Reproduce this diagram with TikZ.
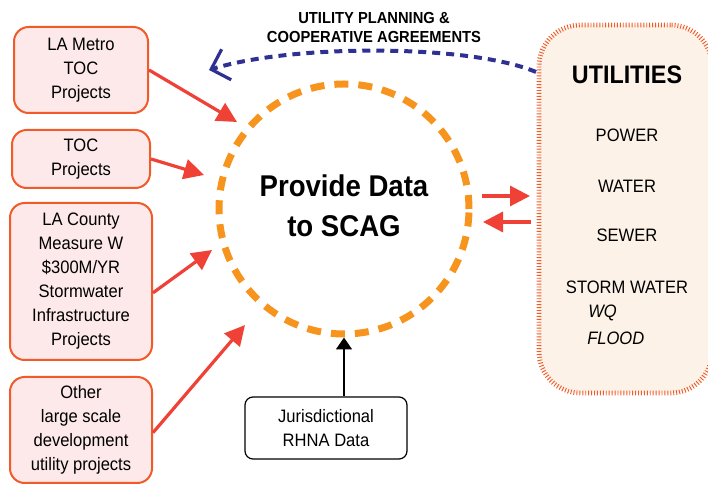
\documentclass[tikz,border=0pt]{standalone}
\usepackage{fontspec}
\setmainfont[FakeStretch=0.92]{Liberation Sans}
\usetikzlibrary{arrows.meta}
\definecolor{boxline}{HTML}{F15A29}
\definecolor{boxfill}{HTML}{FDE9E9}
\definecolor{redarrow}{HTML}{EF4136}
\definecolor{circorange}{HTML}{F7941D}
\definecolor{blueline}{HTML}{2E3192}
\definecolor{utilfill}{HTML}{FDF2E7}
\definecolor{utilline}{HTML}{F15A29}
\tikzset{
  srcbox/.style={draw=boxline, line width=1.5pt, fill=boxfill, rounded corners=11pt,
    align=center, inner sep=0pt, font=\fontsize{13.5}{18}\selectfont},
  redarr/.style={draw=redarrow, line width=2.4pt, -{Triangle[length=15pt,width=15pt]}},
  itemtxt/.style={font=\fontsize{13.5}{18}\selectfont},
}
\begin{document}
\begin{tikzpicture}[x=0.75pt,y=-0.75pt]
\useasboundingbox (0,0) rectangle (708,484);

% utilities box
\node[draw=utilline, fill=utilfill, line width=3.6pt, dash pattern=on 0.7pt off 1.5pt,
  rounded corners=31pt, minimum width=129.75pt, minimum height=276pt, inner sep=0pt]
  (u) at (625.5,209) {};
\node[font=\bfseries\fontsize{19}{22}\selectfont] (ut) at (627,75) {UTILITIES};
\node[itemtxt] (pw) at (627,135) {POWER};
\node[itemtxt] (wa) at (627,186) {WATER};
\node[itemtxt] (se) at (627,235) {SEWER};
\node[itemtxt] (sw) at (627,287) {STORM WATER};
\node[itemtxt, anchor=west, font=\itshape\fontsize{13.5}{18}\selectfont, inner sep=0pt] (wq) at (588,313) {WQ};
\node[itemtxt, anchor=west, font=\itshape\fontsize{13.5}{18}\selectfont, inner sep=0pt] (fl) at (587,338) {FLOOD};

% source boxes
\node[srcbox, minimum width=100.5pt, minimum height=64.5pt] (b1) at (81,70) {LA Metro\\TOC\\Projects};
\node[srcbox, minimum width=103.5pt, minimum height=43.5pt] (b2) at (81,159) {TOC\\Projects};
\node[srcbox, minimum width=106.5pt, minimum height=117.75pt] (b3) at (81,281.5) {LA County\\Measure W\\\$300M/YR\\Stormwater\\Infrastructure\\Projects};
\node[srcbox, minimum width=106.5pt, minimum height=79.5pt] (b4) at (81,430) {Other\\large scale\\development\\utility projects};

% circle
\node[circle, draw=circorange, line width=5.25pt, dash pattern=on 10.5pt off 7.5pt,
  minimum size=187.5pt, inner sep=0pt] (circ) at (344,209) {};
\node[font=\bfseries\fontsize{22.5}{30}\selectfont, align=center] (title) at (344,206) {Provide Data\\to SCAG};

% RHNA box
\node[draw=black, line width=0.9pt, rounded corners=6pt, fill=white, minimum width=121.5pt,
  minimum height=46.5pt, inner sep=0pt, align=center, font=\fontsize{13.5}{18}\selectfont]
  (rh) at (326,428) {Jurisdictional\\RHNA Data};

% header label
\node[font=\bfseries\fontsize{12}{14.25}\selectfont, align=center] (hdr) at (374,27)
  {UTILITY PLANNING \&\\COOPERATIVE AGREEMENTS};

% tip coordinates
\coordinate (t1) at (237,122);
\coordinate (t2) at (204,175);
\coordinate (t3) at (212,250);
\coordinate (t4) at (245,325);
\coordinate (ra) at (482,196);
\coordinate (rb) at (530,196);
\coordinate (la) at (531,222);
\coordinate (lb) at (483,222);
\coordinate (bs) at (536,72);
\coordinate (be) at (209,70);

% red arrows
\draw[redarr] (b1.east) -- (t1);
\draw[redarr] (b2.east) -- (t2);
\draw[redarr] ([yshift=-8.5pt]b3.east) -- (t3);
\draw[redarr] ([yshift=-2pt]b4.east) -- (t4);
\draw[redarr] (ra) -- (rb);
\draw[redarr] (la) -- (lb);

% blue dashed arrow
\draw[blueline, line width=3pt, dash pattern=on 6pt off 4.5pt,
  -{Straight Barb[length=12pt,width=24pt,line width=2.4pt]}]
  (bs) .. controls (470,44) and (292,44) .. (be);

% black arrow
\draw[black, line width=1.2pt, -{Triangle[length=9pt,width=12pt]}]
  ([xshift=13.5pt]rh.north) -- (circ.south);
\end{tikzpicture}
\end{document}
